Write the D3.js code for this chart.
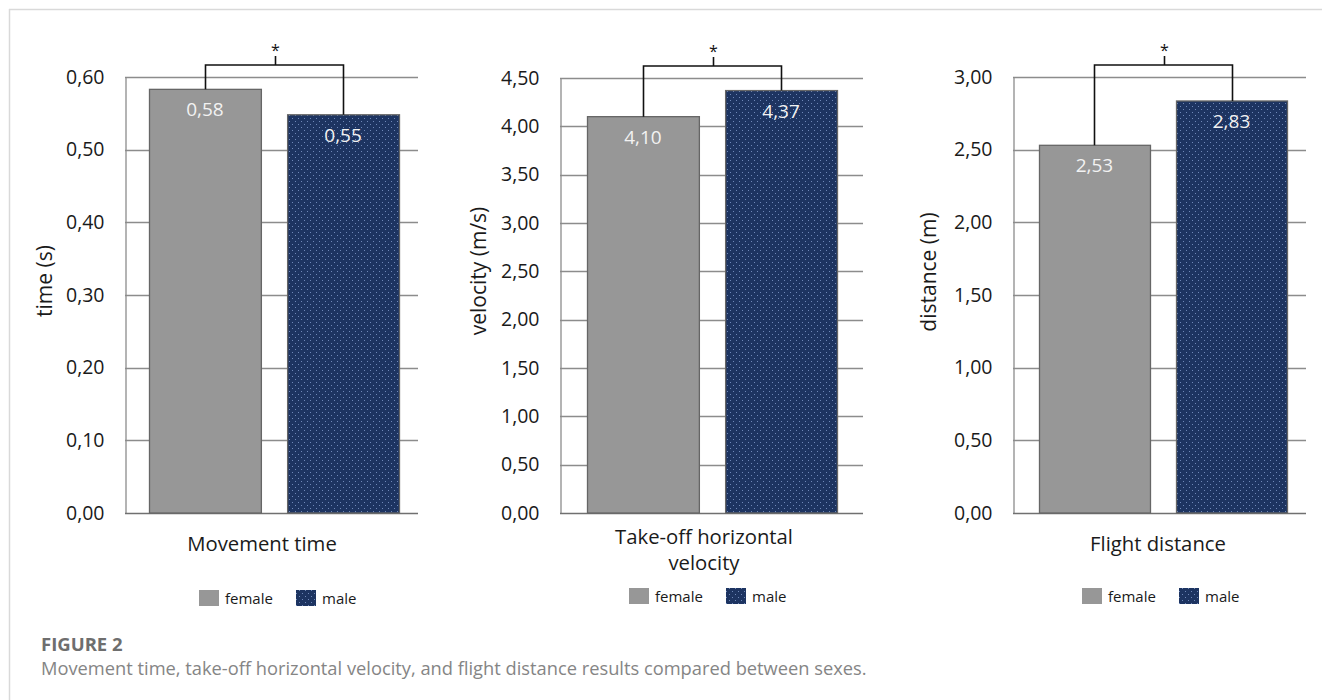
<!DOCTYPE html>
<html>
<head>
<meta charset="utf-8">
<script src="https://cdn.jsdelivr.net/npm/d3@7"></script>
<style>
  html, body { margin: 0; padding: 0; background: #fff; }
  svg { display: block; }
</style>
</head>
<body>
<svg id="chart" width="1322" height="700"></svg>
<script>
// ---------------- DATA ----------------
const sexes = ["female", "male"];
const panelTitles = [["Movement time"], ["Take-off horizontal", "velocity"], ["Flight distance"]];
const yAxisTitles = ["time (s)", "velocity (m/s)", "distance (m)"];
const femaleValues = [0.583, 4.10, 2.53];
const maleValues = [0.548, 4.37, 2.835];
const yMaxValues = [0.6, 4.5, 3.0];
const yTickSteps = [0.1, 0.5, 0.5];
const significance = ["*", "*", "*"];
const figureLabel = "FIGURE 2";
const captionText = "Movement time, take-off horizontal velocity, and flight distance results compared between sexes.";

// ---------------- LAYOUT ----------------
const layout = [
  { axisX: 125, rightX: 418, barL: 149, barR: 399, yTop: 77, yLabelX: 44, yLabelY: 281, catX: 262, catY: 551, legX: 199 },
  { axisX: 560, rightX: 863, barL: 587, barR: 837, yTop: 78, yLabelX: 478, yLabelY: 271, catX: 704, catY: 544, legX: 629 },
  { axisX: 1013, rightX: 1306, barL: 1039, barR: 1287, yTop: 77, yLabelX: 928, yLabelY: 272, catX: 1158, catY: 551, legX: 1082 }
];
const legendY = [598, 596, 596];
const yBottom = 513;
const FONT = "'Open Sans', 'Noto Sans', sans-serif";
const colors = { female: "#979797", male: "#1d3461" };

const svg = d3.select("#chart");
const defs = svg.append("defs");
const pat = defs.append("pattern").attr("id", "dots").attr("patternUnits", "userSpaceOnUse")
  .attr("width", 6).attr("height", 6);
pat.append("rect").attr("width", 6).attr("height", 6).attr("fill", colors.male);
pat.append("rect").attr("x", 1).attr("y", 1).attr("width", 1).attr("height", 1).attr("fill", "#6f88b8");
pat.append("rect").attr("x", 4).attr("y", 4).attr("width", 1).attr("height", 1).attr("fill", "#6f88b8");

// frame
svg.append("line").attr("x1", 9).attr("x2", 1322).attr("y1", 9.5).attr("y2", 9.5).attr("stroke", "#d9d9d9").attr("stroke-width", 1.5);
svg.append("line").attr("x1", 9.5).attr("x2", 9.5).attr("y1", 9).attr("y2", 700).attr("stroke", "#d9d9d9").attr("stroke-width", 1.5);

const fmt = v => d3.format(".2f")(v).replace(".", ",");

layout.forEach((L, i) => {
  const g = svg.append("g");
  const y = d3.scaleLinear().domain([0, yMaxValues[i]]).range([yBottom, L.yTop]);
  const x = d3.scaleBand().domain(sexes).range([L.barL, L.barR]).paddingInner(0.19).paddingOuter(0);
  const ticks = d3.range(0, yMaxValues[i] + yTickSteps[i] / 2, yTickSteps[i]);

  // gridlines
  g.append("g").selectAll("line").data(ticks.slice(1)).join("line")
    .attr("x1", L.axisX).attr("x2", L.rightX)
    .attr("y1", d => Math.round(y(d)) + 0.5).attr("y2", d => Math.round(y(d)) + 0.5)
    .attr("stroke", "#8c8c8c").attr("stroke-width", 1.3);

  // axis via d3
  const axis = d3.axisLeft(y).tickValues(ticks).tickSize(0).tickPadding(21).tickFormat(fmt);
  const ag = g.append("g").attr("transform", `translate(${L.axisX + 0.5},0)`).call(axis);
  ag.select(".domain").attr("stroke", "#8c8c8c").attr("stroke-width", 1.3);
  ag.selectAll("text").attr("font-family", FONT).attr("font-size", 19.5).attr("fill", "#1a1a1a");
  // baseline
  g.append("line").attr("x1", L.axisX).attr("x2", L.rightX).attr("y1", yBottom + 0.5).attr("y2", yBottom + 0.5)
    .attr("stroke", "#707070").attr("stroke-width", 1.5);

  const vals = [femaleValues[i], maleValues[i]];
  const data = sexes.map((s, k) => ({ s, v: vals[k] }));
  g.append("g").selectAll("rect").data(data).join("rect")
    .attr("x", d => x(d.s) + 0.5).attr("width", x.bandwidth())
    .attr("y", d => y(d.v)).attr("height", d => yBottom - y(d.v))
    .attr("fill", d => d.s === "male" ? "url(#dots)" : colors.female)
    .attr("stroke", "#666").attr("stroke-width", 1.3);

  g.append("g").selectAll("text").data(data).join("text")
    .attr("x", d => x(d.s) + x.bandwidth() / 2).attr("y", d => y(d.v) + 27)
    .attr("text-anchor", "middle").attr("font-family", FONT).attr("font-size", 19)
    .attr("fill", "#f2f2f2").text(d => fmt(d.v));

  // significance bracket
  const by = L.yTop - 12;
  const cx = data.map(d => Math.round(x(d.s) + x.bandwidth() / 2) + 0.5);
  const path = `M${cx[0]},${y(data[0].v)} V${by} H${cx[1]} V${y(data[1].v)}`;
  g.append("path").attr("d", path).attr("fill", "none").attr("stroke", "#111").attr("stroke-width", 1.6);
  const mid = Math.round((cx[0] + cx[1]) / 2) + 0.5;
  g.append("line").attr("x1", mid).attr("x2", mid).attr("y1", by).attr("y2", by - 9)
    .attr("stroke", "#111").attr("stroke-width", 1.6);
  g.append("text").attr("x", mid).attr("y", by - 9).attr("text-anchor", "middle")
    .attr("font-family", FONT).attr("font-size", 16).attr("fill", "#111").text(significance[i]);

  // y axis title
  g.append("text").attr("transform", `translate(${L.yLabelX},${L.yLabelY}) rotate(-90)`)
    .attr("text-anchor", "middle").attr("dominant-baseline", "central")
    .attr("font-family", FONT).attr("font-size", 21).attr("fill", "#1a1a1a").text(yAxisTitles[i]);

  // category label
  const ct = g.append("text").attr("text-anchor", "middle").attr("font-family", FONT)
    .attr("font-size", 20.3).attr("fill", "#1a1a1a");
  panelTitles[i].forEach((t, k) => {
    ct.append("tspan").attr("x", L.catX).attr("y", L.catY + k * 26).text(t);
  });

  // legend
  const lg = g.append("g").attr("transform", `translate(${L.legX},${legendY[i]})`);
  const items = [{ s: "female", dx: 0 }, { s: "male", dx: 97 }];
  items.forEach(it => {
    lg.append("rect").attr("x", it.dx).attr("y", -8).attr("width", 20).attr("height", 16)
      .attr("fill", it.s === "male" ? "url(#dots)" : colors.female);
    lg.append("text").attr("x", it.dx + 26).attr("y", 6).attr("font-family", FONT)
      .attr("font-size", 15).attr("fill", "#1a1a1a").text(it.s);
  });
});

// caption
svg.append("text").attr("x", 41).attr("y", 651).attr("font-family", FONT).attr("font-weight", 700)
  .attr("font-size", 18.5).attr("fill", "#6e6e6e").text(figureLabel);
svg.append("text").attr("x", 41).attr("y", 675).attr("font-family", FONT)
  .attr("font-size", 18.3).attr("fill", "#858585").text(captionText);
</script>
</body>
</html>
